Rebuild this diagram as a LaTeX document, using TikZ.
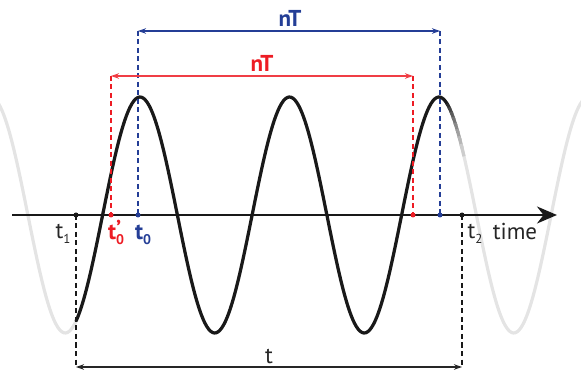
\documentclass[tikz,border=0pt]{standalone}
\usepackage{fontspec}
\setmainfont{PT Sans}
\usetikzlibrary{arrows.meta}
\definecolor{myred}{RGB}{237,28,36}
\definecolor{myblue}{RGB}{36,62,150}
\definecolor{wavegray}{RGB}{228,228,228}
\tikzset{
  lbl/.style={inner sep=0pt, anchor=base, font=\fontsize{23}{26}\selectfont},
  bl/.style={inner sep=0pt, anchor=base, font=\fontsize{23}{26}\selectfont\bfseries},
  dimline/.style={line width=1.1pt, {Stealth[length=8pt,width=5.5pt]}-{Stealth[length=8pt,width=5.5pt]}},
  vdash/.style={line width=1.8pt, dash pattern=on 5pt off 3.5pt},
  dot/.style={circle, fill, inner sep=0pt, minimum size=5pt}
}
\begin{document}
\begin{tikzpicture}[x=1pt,y=-1pt]
\useasboundingbox (0,0) rectangle (581,387);
% waves
\draw[wavegray, line width=3.2pt] plot[variable=\t, domain=-3:584, samples=300, smooth] ({\t},{215-118*cos(2.408*(\t-140))});
\draw[black!90, line width=3.2pt] plot[variable=\t, domain=76:448, samples=200, smooth] ({\t},{215-118*cos(2.408*(\t-140))});
% fading end of the black wave
\foreach \a/\b/\p in {447/450/80,449/452/70,451/454/60,453/456/50,455/458/40,457/460/30,459/462/20,461/464/10}{
  \draw[black!\p!wavegray, line width=3.2pt] plot[variable=\t, domain=\a:\b, samples=4, smooth] ({\t},{215-118*cos(2.408*(\t-140))});
}
% axis
\coordinate (axL) at (12,215);
\coordinate (axR) at (557,215);
\draw[line width=2.3pt, black!90, -{Stealth[length=20pt,width=17pt]}] (axL) -- (axR);
% points on axis
\node[dot, black!90] (t1) at (76,215) {};
\node[dot, myred] (t0p) at (111,215) {};
\node[dot, myblue] (t0) at (138,215) {};
\node[dot, myred] (e0p) at (413,215) {};
\node[dot, myblue] (e0) at (440,215) {};
\node[dot, black!90] (t2) at (462,215) {};
% upper/lower ends of dashed lines
\coordinate (bA) at (138,31);
\coordinate (bB) at (440,31);
\coordinate (rA) at (111,76);
\coordinate (rB) at (413,76);
\coordinate (kA) at (76,367);
\coordinate (kB) at (462,367);
% dashed verticals
\draw[vdash, myblue] (bA) -- (t0.center);
\draw[vdash, myblue] (bB) -- (e0.center);
\draw[vdash, myred] (rA) -- (t0p.center);
\draw[vdash, myred] (rB) -- (e0p.center);
\draw[vdash, black!90] (t1.center) -- (kA);
\draw[vdash, black!90] (t2.center) -- (kB);
% dimension arrows
\draw[dimline, myblue] (bA) -- (bB);
\draw[dimline, myred!85] (rA) -- (rB);
\draw[dimline, black!85] (kA) -- (kB);
% labels
\node[bl, myblue] (nTb) at (290,27) {nT};
\node[bl, myred] (nTr) at (262,72) {nT};
\node[lbl, black!85] (lt) at (269,363) {t};
\node[lbl, black!85] (lt1) at (63,239) {t\raisebox{-0.35ex}{\fontsize{13}{13}\selectfont 1}};
\node[lbl, black!85] (lt2) at (475,239) {t\raisebox{-0.35ex}{\fontsize{13}{13}\selectfont 2}};
\node[lbl, black!85] (ltime) at (515,240) {time};
\node[bl, myred] (lt0p) at (116,240) {t\rlap{\raisebox{0.3ex}{’}}\raisebox{-0.35ex}{\fontsize{14}{14}\selectfont\bfseries 0}};
\node[bl, myblue] (lt0) at (143,240) {t\raisebox{-0.35ex}{\fontsize{14}{14}\selectfont\bfseries 0}};
\end{tikzpicture}
\end{document}
